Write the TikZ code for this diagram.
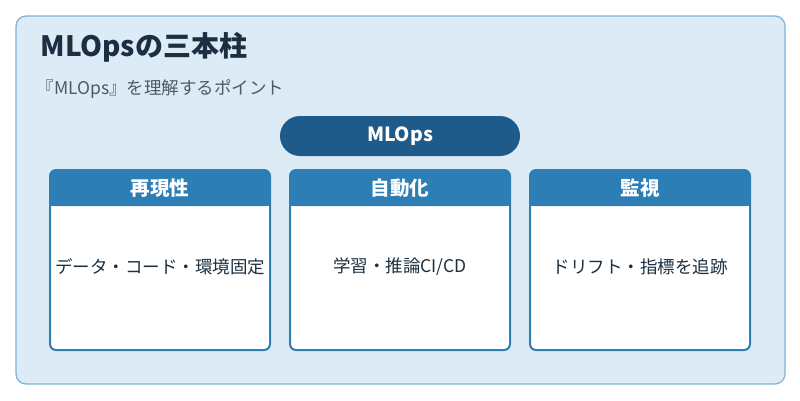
\documentclass[tikz,border=0pt]{standalone}
\usepackage{fontspec}
\setmainfont{Noto Sans CJK JP}
\definecolor{bg}{HTML}{DCEBF6}
\definecolor{frame}{HTML}{7FB2D6}
\definecolor{titlec}{HTML}{1B2F40}
\definecolor{subc}{HTML}{4A5A68}
\definecolor{pill}{HTML}{1F5B8A}
\definecolor{head}{HTML}{2E7EB6}
\begin{document}
\begin{tikzpicture}[x=1pt,y=-1pt,
  card/.style={draw=head,line width=2pt,fill=white,rounded corners=6pt},
  htext/.style={text=white,font=\bfseries\fontsize{19.5}{22}\selectfont},
  btext/.style={text=titlec,font=\fontsize{17.5}{20}\selectfont}]
\useasboundingbox (0,0) rectangle (800,400);
\fill[white] (0,0) rectangle (800,400);
\draw[draw=frame,fill=bg,line width=1.2pt,rounded corners=10pt] (16,16) rectangle (785,384);
\node[anchor=west,text=titlec,font=\bfseries\fontsize{28}{33}\selectfont] (title) at (37,47) {MLOpsの三本柱};
\node[anchor=west,text=subc,font=\fontsize{17.5}{20}\selectfont] (sub) at (33,89) {『MLOps』を理解するポイント};
\fill[pill,rounded corners=20pt] (280,116) rectangle (520,156);
\node[htext] (mlops) at (400,136) {MLOps};
\foreach \x/\h/\b/\n in {50/再現性/データ・コード・環境固定/a,290/自動化/学習・推論CI\slash CD/b,530/監視/ドリフト・指標を追跡/c}{
  \draw[card] (\x,170) rectangle ++(220,180);
  \fill[head,rounded corners=6pt] (\x,170) rectangle ++(220,36);
  \fill[head] (\x,195) rectangle ++(220,11);
  \node[htext] (h\n) at (\x+110,188) {\h};
  \node[btext] (b\n) at (\x+110,267) {\b};
}
\end{tikzpicture}
\end{document}
